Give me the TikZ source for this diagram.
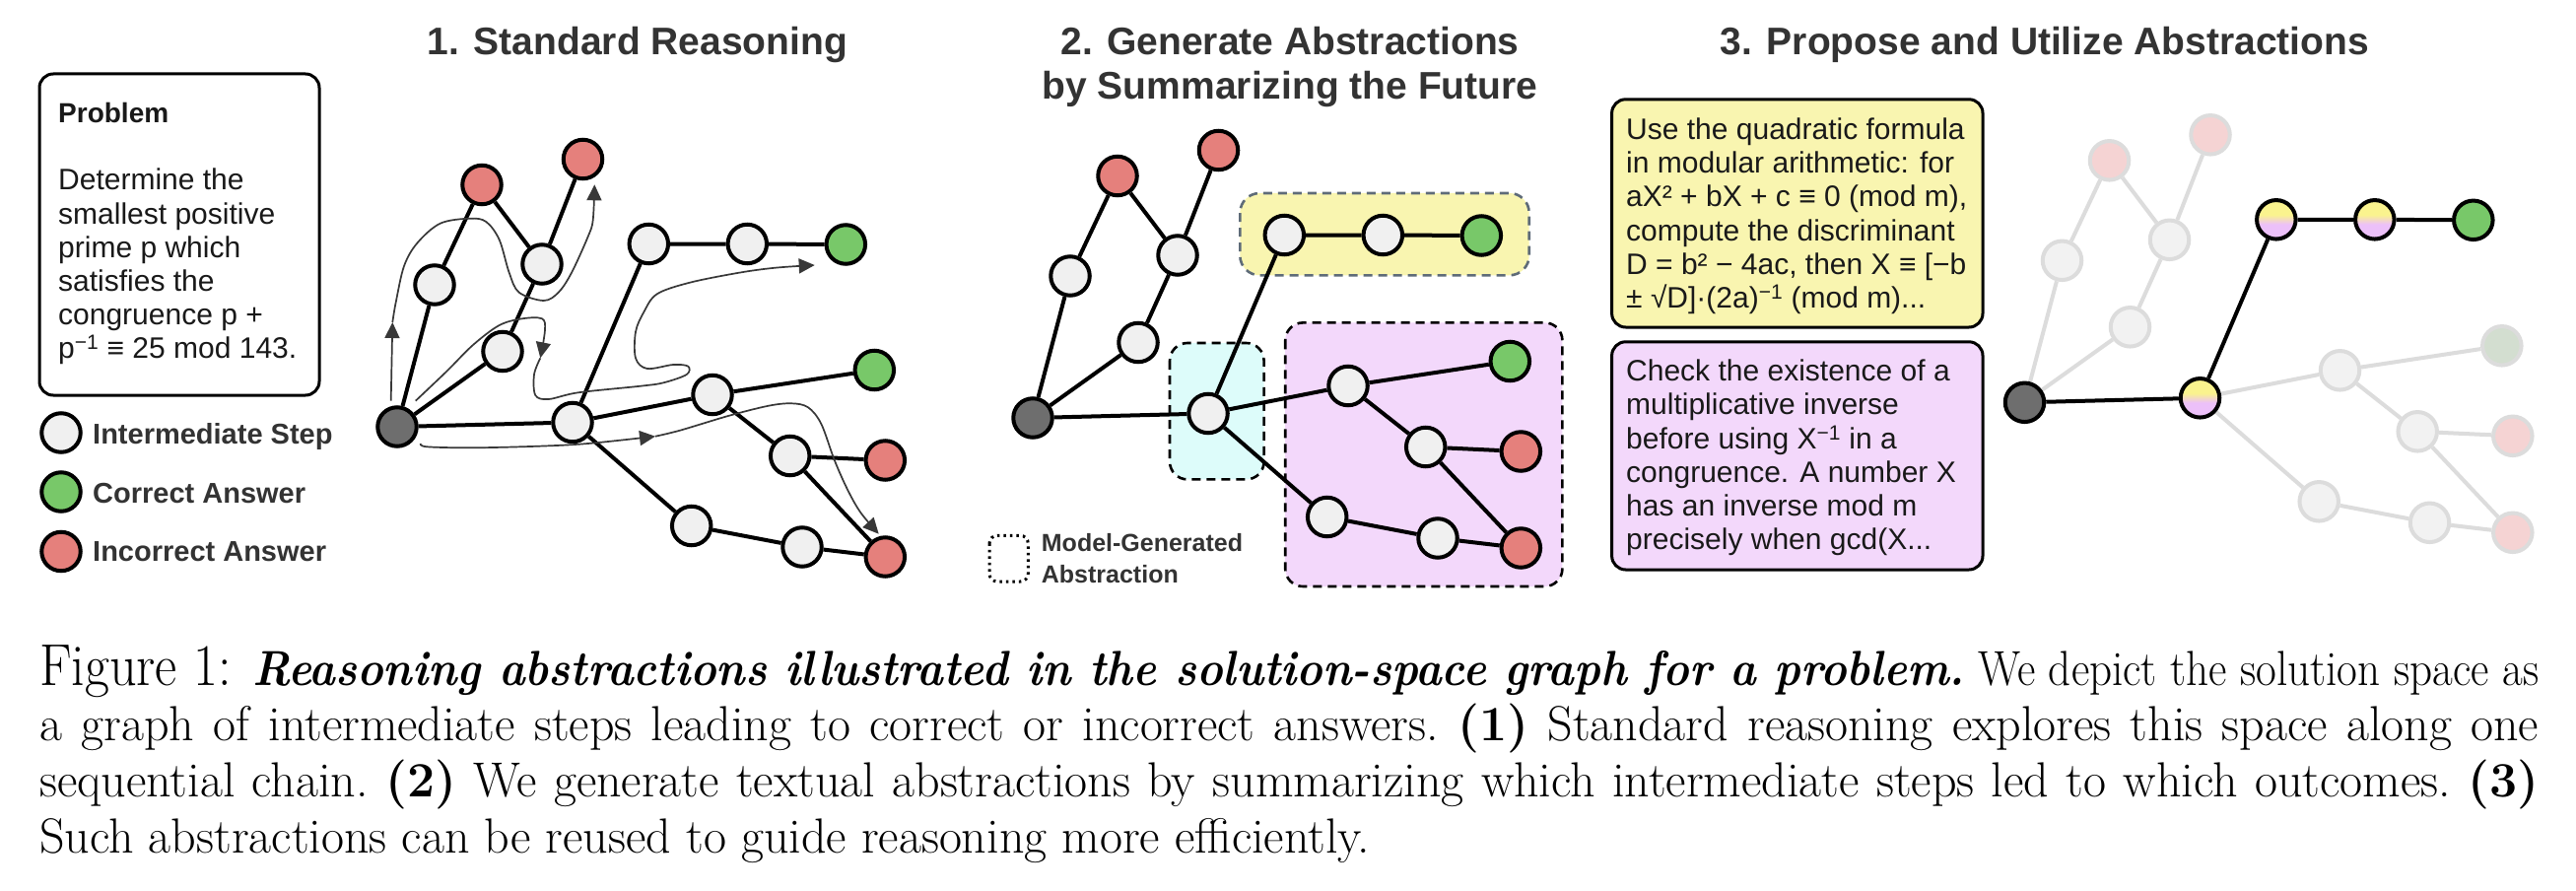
\documentclass[tikz,border=0pt]{standalone}
\usepackage{fontspec}
\newfontfamily\sansf{Liberation Sans}
\usetikzlibrary{arrows.meta}
\definecolor{stepfill}{HTML}{F0F0F0}
\definecolor{goodfill}{HTML}{78C869}
\definecolor{badfill}{HTML}{E5807C}
\definecolor{rootfill}{HTML}{6E6E6E}
\definecolor{fadeline}{HTML}{DCDCDC}
\definecolor{fadestep}{HTML}{F2F2F2}
\definecolor{fadegood}{HTML}{D3DED0}
\definecolor{fadebad}{HTML}{F5D3D3}
\definecolor{yelbg}{HTML}{F9F5B0}
\definecolor{purbg}{HTML}{F3D8FB}
\definecolor{cyanbg}{HTML}{DDFCFA}
\definecolor{slate}{HTML}{5E6B78}
\definecolor{titlegray}{HTML}{333333}
\definecolor{trailgray}{HTML}{383838}
\definecolor{gyel}{HTML}{FAF38E}
\definecolor{gpur}{HTML}{ECC0F9}
\pgfdeclareverticalshading{yelpur}{100bp}{color(0bp)=(gpur); color(44bp)=(gpur); color(56bp)=(gyel); color(100bp)=(gyel)}
\pgfdeclarelayer{boxes}
\pgfdeclarelayer{edgelayer}
\pgfsetlayers{boxes,edgelayer,main}
\newcommand\bodyf{\sansf\fontsize{30}{34.2}\selectfont}
\newcommand\capf{\fontsize{50}{56.7}\selectfont\frenchspacing}
\newsavebox\jlbox
\newcommand\justline[1]{\sbox\jlbox{#1}\ifdim\wd\jlbox>2536pt\relax\resizebox{2536pt}{\height}{\usebox\jlbox}\else\makebox[2536pt][s]{#1}\fi}
% graph nodes: #1 root, #2 step, #3 good, #4 bad, #5 chosen steps F G H, #6 chosen answer I
\newcommand\gnodes[6]{%
 \node[#1] (R) at (403,433) {};
 \node[#2] (A) at (441,289) {};
 \node[#4] (B) at (489,187.5) {};
 \node[#4] (C) at (591.5,161.5) {};
 \node[#2] (D) at (550,268) {};
 \node[#2] (E) at (510,356.5) {};
 \node[#5] (F) at (581,428.5) {};
 \node[#5] (G) at (658.3,247.5) {};
 \node[#5] (H) at (758.3,247.5) {};
 \node[#6] (I) at (858.3,248) {};
 \node[#2] (J) at (723,400.5) {};
 \node[#3] (K) at (887.3,375.5) {};
 \node[#2] (L) at (801.7,462.5) {};
 \node[#4] (M) at (898.3,467) {};
 \node[#2] (N) at (701.7,533.5) {};
 \node[#2] (O) at (814,555) {};
 \node[#4] (P) at (898.3,565) {};
}
% #1 style of chain R-F-G-H-I, #2 style of other edges
\newcommand\gedges[2]{%
 \begin{pgfonlayer}{edgelayer}
 \draw[#2] (R)--(A) (A)--(B) (B)--(D) (D)--(C) (D)--(E) (E)--(R)
   (F)--(J) (J)--(K) (J)--(L) (L)--(M) (L)--(P) (F)--(N) (N)--(O) (O)--(P);
 \draw[#1] (R)--(F) (F)--(G) (G)--(H) (H)--(I);
 \end{pgfonlayer}
}
\begin{document}
\begin{tikzpicture}[x=1pt,y=-1pt,
  nd/.style={circle, draw=black, line width=4pt, minimum size=39.5pt, inner sep=0pt},
  istep/.style={nd, fill=stepfill},
  good/.style={nd, fill=goodfill},
  bad/.style={nd, fill=badfill},
  rootn/.style={nd, fill=rootfill},
  fstep/.style={nd, draw=fadeline, fill=fadestep},
  fgood/.style={nd, draw=fadeline, fill=fadegood},
  fbad/.style={nd, draw=fadeline, fill=fadebad},
  abst/.style={nd, shading=yelpur},
  edge/.style={line width=4pt, draw=black},
  fedge/.style={line width=4pt, draw=fadeline},
  trail/.style={line width=1.7pt, draw=trailgray, -{Triangle[length=16pt,width=15pt]}},
  title/.style={font={\sansf\bfseries\fontsize{39}{45}\selectfont}, text=titlegray, inner sep=0pt, anchor=base},
  legtext/.style={font={\sansf\bfseries\fontsize{29}{33}\selectfont}, text=titlegray, inner sep=0pt, anchor=base west},
  textbox/.style={line width=3pt, draw=black, rounded corners=14pt},
  absbox/.style={line width=2.6pt, dash pattern=on 9pt off 6pt, rounded corners=18pt},
  capline/.style={inner sep=0pt, anchor=base west, font=\capf}
]
\begin{pgfonlayer}{boxes}
\fill[white] (0,0) rectangle (2614,904);
\end{pgfonlayer}
\useasboundingbox (0,0) rectangle (2614,904);

% ---------- titles ----------
\node[title] (t1) at (647,56) {1. Standard Reasoning};
\node[title] (t2a) at (1309,56) {2. Generate Abstractions};
\node[title] (t2b) at (1309,101) {by Summarizing the Future};
\node[title] (t3) at (2075,56) {3. Propose and Utilize Abstractions};

% ---------- problem box and legend ----------
\draw[textbox, fill=white] (40,75) rectangle (324,401);
\node[anchor=base west, inner sep=0pt, font={\sansf\bfseries\fontsize{28}{32}\selectfont}, text=black!90] (probtitle) at (59,124.5) {Problem};
\node[anchor=base west, inner sep=0pt, font=\bodyf, text=black!90] (probtext) at (59,193)
  {\parbox[t]{262pt}{\raggedright Determine the\\ smallest positive\\ prime p which\\ satisfies the\\ congruence p +\\ p\textsuperscript{−1} ≡ 25 mod 143.}};
\node[istep] (lgstep) at (62,439) {};
\node[good] (lggood) at (62,499) {};
\node[bad] (lgbad) at (62,559.5) {};
\node[legtext] (lgsteptext) at (94,450) {Intermediate Step};
\node[legtext] (lggoodtext) at (94,510) {Correct Answer};
\node[legtext] (lgbadtext) at (94,569.5) {Incorrect Answer};

% ---------- panel 1 ----------
\begin{scope}[name prefix=p1-]
  \gnodes{rootn}{istep}{good}{bad}{istep}{good}
  \gedges{edge}{edge}
\end{scope}
% exploration trail
\draw[trail] (396.7,406.7) -- (398.3,327);
\draw[trail] plot[smooth, tension=0.55] coordinates {(398.3,327) (401.7,306.7) (410,270) (423.3,246.7) (446.7,226.7) (476.7,221.7) (493.3,225) (506.7,243.3) (516.7,276.7) (526.7,296.7) (551.7,305) (566.7,296.7) (580,276.7) (596.7,240) (601.7,223.3) (603.3,187.3)};
\draw[trail] plot[smooth, tension=0.55] coordinates {(421.7,406.7) (453.3,376.7) (480,350) (506.7,330) (530,323.3) (550,323.3) (553,335) (548.3,363.3)};
\draw[trail] plot[smooth, tension=0.55] coordinates {(548.3,363.3) (542,380) (543.3,401) (556.7,405) (586.7,398.3) (650,391.7) (673.3,388.3) (696.7,380) (698.3,371.7) (683.3,370) (656.7,374) (645,363.3) (645,336.7) (653.3,316.7) (666.7,298.3) (700,286.7) (750,276.7) (786.7,271.7) (826.7,269)};
\draw[trail] plot[smooth, tension=0.55] coordinates {(426.7,450) (433.3,453.3) (480,454.3) (546.7,452.7) (596.7,450) (665,442.7)};
\draw[trail] plot[smooth, tension=0.55] coordinates {(665,442.7) (690,436.7) (740,421.7) (780,411.7) (803.3,409.3) (820,413.3) (833.3,430) (846.7,466.7) (860,496.7) (873.3,520) (891.7,541.7)};

% ---------- panel 2 ----------
\begin{pgfonlayer}{boxes}
  \draw[absbox, draw=slate, fill=yelbg, rounded corners=20pt] (1258.3,196) rectangle (1551.7,279.3);
  \draw[absbox, draw=black, fill=cyanbg] (1187,348) rectangle (1282.6,486.4);
  \draw[absbox, draw=black, fill=purbg] (1304.2,327.4) rectangle (1585.4,595);
\end{pgfonlayer}
\begin{scope}[shift={(645,-9)}, name prefix=p2-]
  \gnodes{rootn}{istep}{good}{bad}{istep}{good}
  \gedges{edge}{edge}
\end{scope}
\draw[line width=3pt, dash pattern=on 2.5pt off 4pt, rounded corners=8pt] (1004,543.3) rectangle (1043.3,590);
\node[anchor=base west, inner sep=0pt, font={\sansf\bfseries\fontsize{25}{29}\selectfont}, text=titlegray] (mga) at (1056.7,559.5) {Model-Generated};
\node[anchor=base west, inner sep=0pt, font={\sansf\bfseries\fontsize{25}{29}\selectfont}, text=titlegray] (mgb) at (1056.7,591.5) {Abstraction};

% ---------- panel 3 ----------
\draw[textbox, fill=yelbg] (1635.6,100.8) rectangle (2012,332);
\draw[textbox, fill=purbg] (1635.6,346.8) rectangle (2012,578);
\node[anchor=base west, inner sep=0pt, font=\bodyf, text=black!90] (abs1) at (1650,141.6)
  {\parbox[t]{360pt}{\raggedright Use the quadratic formula\\ in modular arithmetic: for\\ aX² + bX + c ≡ 0 (mod m),\\ compute the discriminant\\ D = b² − 4ac, then X ≡ [−b\\ ± √D]·(2a)\textsuperscript{−1} (mod m)...}};
\node[anchor=base west, inner sep=0pt, font=\bodyf, text=black!90] (abs2) at (1650,386.7)
  {\parbox[t]{360pt}{\raggedright Check the existence of a\\ multiplicative inverse\\ before using X\textsuperscript{−1} in a\\ congruence. A number X\\ has an inverse mod m\\ precisely when gcd(X...}};
\begin{scope}[shift={(1651.5,-24.7)}, name prefix=p3-]
  \gnodes{rootn}{fstep}{fgood}{fbad}{abst}{good}
  \gedges{edge}{fedge}
\end{scope}

% ---------- caption ----------
\node[capline] (cap1) at (40,695) {\justline{{\fontsize{60}{62}\selectfont Figure 1:}\hspace{24pt}\textbf{\textit{Reasoning abstractions illustrated in the solution-space graph for a problem.}} We depict the solution space as}};
\node[capline] (cap2) at (40,751.7) {\justline{a graph of intermediate steps leading to correct or incorrect answers. \textbf{(1)} Standard reasoning explores this space along one}};
\node[capline] (cap3) at (40,808.3) {\justline{sequential chain. \textbf{(2)} We generate textual abstractions by summarizing which intermediate steps led to which outcomes. \textbf{(3)}}};
\node[capline] (cap4) at (40,865) {Such abstractions can be reused to guide reasoning more efficiently.};
\end{tikzpicture}
\end{document}
